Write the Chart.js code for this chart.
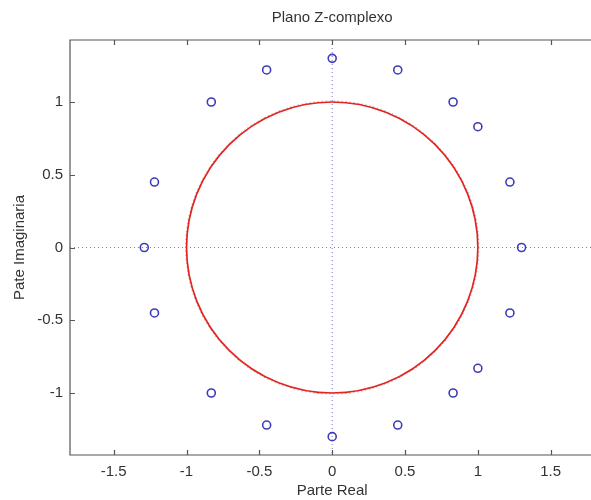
<!DOCTYPE html>
<html>
<head>
<meta charset="utf-8">
<script src="https://cdn.jsdelivr.net/npm/chart.js@4/dist/chart.umd.min.js"></script>
<style>
  html, body { margin: 0; padding: 0; background: #ffffff; overflow: hidden; }
  #wrap { width: 600px; height: 500px; }
</style>
</head>
<body>
<div id="wrap"><canvas id="c" width="600" height="500"></canvas></div>
<script>
// Zeros of the system (real and imaginary parts)
const zerosReal = [0, 0.45, 0.83, 1.0, 1.22, 1.3, 1.22, 1.0, 0.83, 0.45, 0, -0.45, -0.83, -1.22, -1.29, -1.22, -0.83, -0.45];
const zerosImag = [1.3, 1.22, 1.0, 0.83, 0.45, 0, -0.45, -0.83, -1.0, -1.22, -1.3, -1.22, -1.0, -0.45, 0, 0.45, 1.0, 1.22];

// Unit circle reference
const unitCircle = { centerX: 0, centerY: 0, radius: 1 };

// Axis limits and tick marks
const xLimits = [-1.8, 1.8];
const yLimits = [-1.426, 1.426];
const xTicks = [-1.5, -1, -0.5, 0, 0.5, 1, 1.5];
const yTicks = [-1, -0.5, 0, 0.5, 1];

const axisColor = '#555555';
const textColor = '#333333';
const fontFamily = "'Liberation Sans', Arial, sans-serif";
const fontSize = 15;

// Background guides: dotted real/imag axes and the unit circle
const guidesPlugin = {
  id: 'guides',
  beforeDatasetsDraw(chart) {
    const { ctx, chartArea: a, scales: { x, y } } = chart;
    ctx.save();
    ctx.beginPath();
    ctx.rect(a.left, a.top, a.right - a.left, a.bottom - a.top);
    ctx.clip();

    // dotted axes through the origin
    ctx.strokeStyle = '#7474cc';
    ctx.lineWidth = 1;
    ctx.setLineDash([1, 3]);
    const x0 = x.getPixelForValue(0), y0 = y.getPixelForValue(0);
    ctx.beginPath();
    ctx.moveTo(a.left, y0); ctx.lineTo(a.right, y0);
    ctx.moveTo(x0, a.top); ctx.lineTo(x0, a.bottom);
    ctx.stroke();

    // unit circle
    const cx = x.getPixelForValue(unitCircle.centerX);
    const cy = y.getPixelForValue(unitCircle.centerY);
    const rx = x.getPixelForValue(unitCircle.radius) - cx;
    const ry = cy - y.getPixelForValue(unitCircle.radius);
    ctx.setLineDash([1, 3]);
    ctx.strokeStyle = '#8a8ab0';
    ctx.beginPath();
    ctx.ellipse(cx, cy, rx + 1, ry + 1, 0, 0, Math.PI * 2);
    ctx.stroke();
    ctx.setLineDash([]);
    ctx.strokeStyle = '#e3241f';
    ctx.lineWidth = 1.7;
    ctx.beginPath();
    ctx.ellipse(cx, cy, rx, ry, 0, 0, Math.PI * 2);
    ctx.stroke();
    ctx.restore();
  },
  afterDraw(chart) {
    // box frame with inward tick marks
    const { ctx, chartArea: a, scales: { x, y } } = chart;
    ctx.save();
    ctx.strokeStyle = axisColor;
    ctx.lineWidth = 1.2;
    ctx.beginPath();
    ctx.moveTo(a.right, a.top); ctx.lineTo(a.left, a.top);
    ctx.lineTo(a.left, a.bottom); ctx.lineTo(a.right, a.bottom);
    ctx.stroke();
    const tl = 5;
    ctx.beginPath();
    xTicks.forEach(v => {
      const px = Math.round(x.getPixelForValue(v)) + 0.5;
      ctx.moveTo(px, a.bottom); ctx.lineTo(px, a.bottom - tl);
      ctx.moveTo(px, a.top); ctx.lineTo(px, a.top + tl);
    });
    yTicks.forEach(v => {
      const py = Math.round(y.getPixelForValue(v)) + 0.5;
      ctx.moveTo(a.left, py); ctx.lineTo(a.left + tl, py);
    });
    ctx.stroke();
    ctx.restore();
  }
};

const points = zerosReal.map((re, i) => ({ x: re, y: zerosImag[i] }));

new Chart(document.getElementById('c'), {
  type: 'scatter',
  data: {
    datasets: [{
      label: 'Zeros',
      data: points,
      pointStyle: 'circle',
      pointRadius: 4,
      pointBorderWidth: 1.6,
      pointBorderColor: '#3c3cb8',
      pointBackgroundColor: 'rgba(0,0,0,0)',
      showLine: false
    }]
  },
  options: {
    responsive: false,
    animation: false,
    events: [],
    layout: { padding: { left: 0, right: 3, top: 0, bottom: 0 } },
    plugins: {
      legend: { display: false },
      tooltip: { enabled: false },
      title: {
        display: true,
        text: 'Plano Z-complexo',
        fullSize: false,
        color: textColor,
        font: { family: fontFamily, size: fontSize, weight: 'normal', lineHeight: 1.2 },
        padding: { top: 9, bottom: 13 }
      }
    },
    scales: {
      x: {
        type: 'linear',
        min: xLimits[0],
        max: xLimits[1],
        afterBuildTicks: s => { s.ticks = xTicks.map(v => ({ value: v })); },
        afterFit: s => { s.height = 45; },
        grid: { display: false, drawTicks: false },
        border: { display: false },
        ticks: {
          color: textColor,
          padding: 8,
          font: { family: fontFamily, size: fontSize },
          callback: v => String(v)
        },
        title: {
          display: true,
          text: 'Parte Real',
          color: textColor,
          font: { family: fontFamily, size: fontSize },
          padding: { top: 0, bottom: 0 }
        }
      },
      y: {
        type: 'linear',
        min: yLimits[0],
        max: yLimits[1],
        afterBuildTicks: s => { s.ticks = yTicks.map(v => ({ value: v })); },
        afterFit: s => { s.width = 70; },
        grid: { display: false, drawTicks: false },
        border: { display: false },
        ticks: {
          color: textColor,
          padding: 7,
          font: { family: fontFamily, size: fontSize },
          callback: v => String(v)
        },
        title: {
          display: true,
          text: 'Pate Imaginaria',
          color: textColor,
          font: { family: fontFamily, size: fontSize },
          padding: { top: 11, bottom: 0 }
        }
      }
    }
  },
  plugins: [guidesPlugin]
});
</script>
</body>
</html>
